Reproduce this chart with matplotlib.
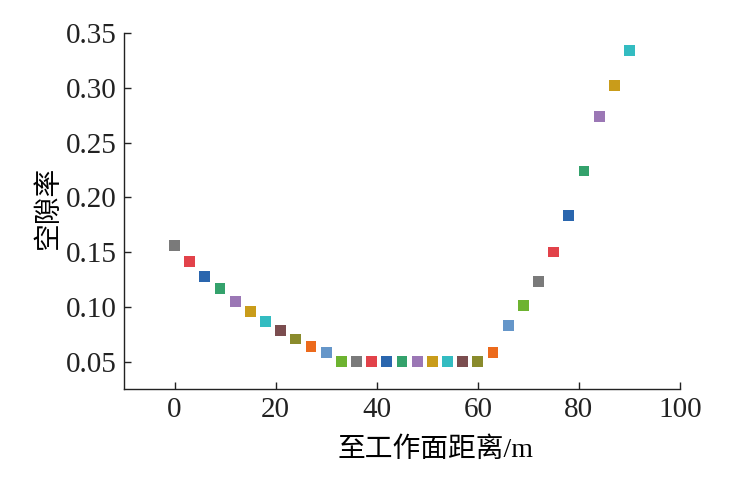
import matplotlib
matplotlib.use('Agg')
import matplotlib.pyplot as plt

plt.rcParams['font.family'] = ['Liberation Serif', 'Noto Sans CJK SC', 'DejaVu Sans']

# distance to working face (m) and void ratio
distance = [0, 3, 6, 9, 12, 15, 18, 21, 24, 27, 30, 33, 36, 39, 42, 45,
            48, 51, 54, 57, 60, 63, 66, 69, 72, 75, 78, 81, 84, 87, 90]
void_ratio = [0.156, 0.1415, 0.128, 0.1165, 0.105, 0.0955, 0.0863, 0.0784,
              0.0707, 0.064, 0.058, 0.05, 0.05, 0.05, 0.05, 0.05, 0.05, 0.05,
              0.05, 0.05, 0.05, 0.0585, 0.083, 0.101, 0.1234, 0.150, 0.1835,
              0.224, 0.2738, 0.302, 0.334]

palette = ['#7a7a7a', '#e2424a', '#2a66ae', '#34a26c', '#9b77b5', '#c99c1a',
           '#33bcc1', '#7b4d4f', '#8a8b2c', '#ec6a1c', '#6596c9', '#6db330']
colors = [palette[i % len(palette)] for i in range(len(distance))]

fig = plt.figure(figsize=(7.43, 4.8), dpi=100)
ax = fig.add_axes([0.1669, 0.1896, 0.7483, 0.7416])
ax.scatter(distance, void_ratio, c=colors, marker='s', s=60, linewidths=0)

ax.set_xlim(-10, 100)
ax.set_ylim(0.025, 0.35)
ax.set_xticks([0, 20, 40, 60, 80, 100])
ax.set_yticks([0.05, 0.10, 0.15, 0.20, 0.25, 0.30, 0.35])
ax.set_yticklabels(['0.05', '0.10', '0.15', '0.20', '0.25', '0.30', '0.35'])
ax.spines['top'].set_visible(False)
ax.spines['right'].set_visible(False)
for s in ['left', 'bottom']:
    ax.spines[s].set_linewidth(1.0)
    ax.spines[s].set_color('#222222')
ax.tick_params(direction='in', length=5, width=1, labelsize=21, colors='#222222')
ax.tick_params(axis='x', pad=6)
ax.tick_params(axis='y', pad=5)

ax.set_xlabel('至工作面距离/m', fontsize=20)
ax.set_ylabel('空隙率', fontsize=20)
ax.xaxis.set_label_coords(0.561, -0.135)
ax.yaxis.set_label_coords(-0.112, 0.51)

fig.savefig('out.png', dpi=100)
